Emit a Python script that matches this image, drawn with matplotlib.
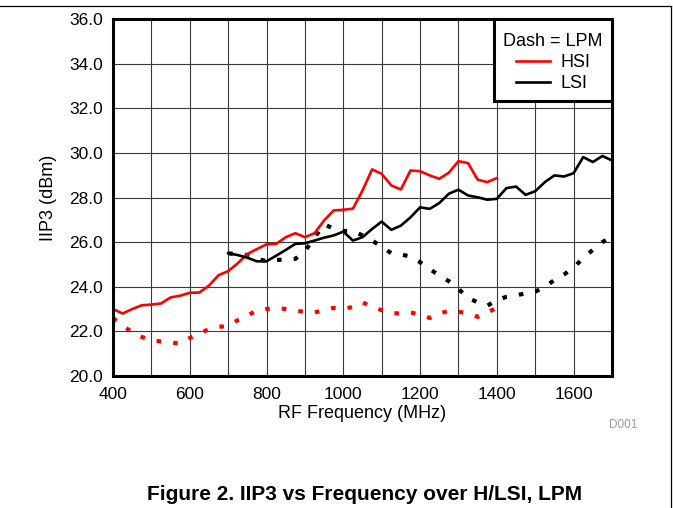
import numpy as np
import matplotlib
matplotlib.use("Agg")
import matplotlib.pyplot as plt
from matplotlib.lines import Line2D
from matplotlib.patches import Rectangle

plt.rcParams['font.family'] = ['Liberation Sans', 'DejaVu Sans']

# ---- data ----
freq_hsi = list(range(400, 1401, 25))
iip3_hsi = [23.0, 22.8, 23.0, 23.17, 23.2, 23.25, 23.52, 23.6, 23.73, 23.74,
            24.05, 24.52, 24.7, 25.05, 25.47, 25.69, 25.9, 25.92, 26.22, 26.40,
            26.22, 26.40, 26.97, 27.42, 27.45, 27.5, 28.31, 29.26, 29.06, 28.54,
            28.36, 29.21, 29.18, 28.99, 28.84, 29.11, 29.63, 29.54, 28.80, 28.69,
            28.87]

freq_lsi = list(range(700, 1701, 25))
iip3_lsi = [25.5, 25.42, 25.3, 25.14, 25.14, 25.39, 25.65, 25.92, 25.95, 26.07,
            26.2, 26.3, 26.47, 26.07, 26.22, 26.59, 26.92, 26.55, 26.74, 27.11,
            27.56, 27.49, 27.75, 28.17, 28.35, 28.09, 28.01, 27.9, 27.94, 28.42,
            28.49, 28.12, 28.28, 28.69, 28.99, 28.94, 29.09, 29.81, 29.59, 29.86,
            29.66]

iip3_hsi_lpm = [22.6, 22.25, 21.97, 21.75, 21.6, 21.55, 21.5, 21.45, 21.7, 21.9,
                22.1, 22.2, 22.25, 22.5, 22.7, 22.95, 23.0, 23.05, 23.0, 22.92,
                22.88, 22.85, 22.95, 23.05, 23.0, 23.1, 23.3, 23.1, 22.95, 22.82,
                22.8, 22.85, 22.75, 22.6, 22.8, 22.92, 22.88, 22.8, 22.65, 22.85,
                23.05]

iip3_lsi_lpm = [25.5, 25.45, 25.42, 25.25, 25.15, 25.2, 25.22, 25.25, 25.6, 26.2,
                26.8, 26.6, 26.5, 26.5, 26.3, 26.07, 25.8, 25.5, 25.45, 25.35,
                25.1, 24.8, 24.5, 24.25, 23.9, 23.5, 23.3, 23.15, 23.4, 23.55,
                23.62, 23.7, 23.78, 24.0, 24.3, 24.55, 24.85, 25.3, 25.65, 26.0,
                26.25]

xticks = [400, 600, 800, 1000, 1200, 1400, 1600]
yticks = [20.0, 22.0, 24.0, 26.0, 28.0, 30.0, 32.0, 34.0, 36.0]

# ---- figure ----
W, H = 673, 508
fig = plt.figure(figsize=(W/100, H/100), dpi=100)
ax_l, ax_r, ax_t, ax_b = 113, 612, 19, 376
ax = fig.add_axes([ax_l/W, 1-ax_b/H, (ax_r-ax_l)/W, (ax_b-ax_t)/H])

def axx(px):
    return (px-ax_l)/(ax_r-ax_l)

def axy(py):
    return (ax_b-py)/(ax_b-ax_t)

red = '#ff0000'
dot = (0, (1.1, 2.9))
ax.plot(freq_hsi, iip3_hsi_lpm, color=red, lw=3.0, linestyle=dot, zorder=3)
ax.plot(freq_lsi, iip3_lsi_lpm, color='black', lw=3.0, linestyle=dot, zorder=3)
ax.plot(freq_hsi, iip3_hsi, color=red, lw=1.9, zorder=4)
ax.plot(freq_lsi, iip3_lsi, color='black', lw=1.9, zorder=4)

ax.set_xlim(400, 1700)
ax.set_ylim(20, 36)
ax.set_xticks(xticks)
ax.set_xticklabels([str(t) for t in xticks])
ax.set_xticks(np.arange(400, 1701, 100), minor=True)
ax.set_yticks(yticks)
ax.set_yticklabels([f"{t:.1f}" for t in yticks])
ax.grid(True, which='both', color='#3a3a3a', lw=0.8)
ax.tick_params(which='both', length=0, labelsize=12.5, colors='black')
ax.tick_params(axis='x', pad=8)
ax.tick_params(axis='y', pad=7)
for s in ax.spines.values():
    s.set_linewidth(2.2)
    s.set_zorder(6)

ax.set_xlabel('RF Frequency (MHz)', fontsize=13, labelpad=2)
ax.set_ylabel('IIP3 (dBm)', fontsize=13, labelpad=9)

# legend box drawn separately
box = Rectangle((axx(494), axy(101)), 1-axx(494), 1-axy(101), transform=ax.transAxes,
                facecolor='white', edgecolor='black', lw=2.2, zorder=7, clip_on=False)
ax.add_patch(box)

handles = [Line2D([], [], color=red, lw=1.9), Line2D([], [], color='black', lw=1.9)]
leg = ax.legend(handles, ['HSI', 'LSI'], title='Dash = LPM', loc='upper center',
                bbox_to_anchor=(axx(553), axy(33)),
                fontsize=13, title_fontsize=13, borderaxespad=0, frameon=False,
                handlelength=1.9, handletextpad=0.55, borderpad=0,
                labelspacing=0.23)
leg.set_zorder(8)

fig.text(623/W, 1-425/H, 'D001', fontsize=8.5, color='#999999', ha='center', va='center')
fig.text(365/W, 1-495/H, 'Figure 2. IIP3 vs Frequency over H/LSI, LPM',
         fontsize=15, fontweight='bold', ha='center', va='center')

# frame lines (top and right)
fig.add_artist(Line2D([0, 671/W], [1-6/H, 1-6/H], transform=fig.transFigure,
                      color='black', lw=0.9))
fig.add_artist(Line2D([671/W, 671/W], [1-6/H, 0], transform=fig.transFigure,
                      color='black', lw=0.9))

fig.savefig('out.png', dpi=100)
